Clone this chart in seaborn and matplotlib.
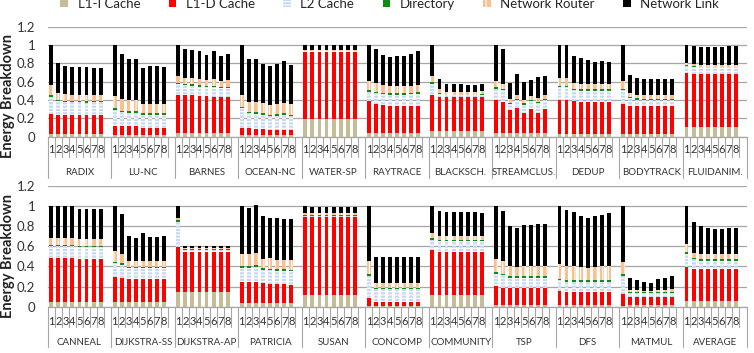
import numpy as np
import pandas as pd
import matplotlib
matplotlib.use("Agg")
import matplotlib.pyplot as plt
from matplotlib.patches import Patch
import seaborn as sns

# --- data ---
top_bench = ["RADIX", "LU-NC", "BARNES", "OCEAN-NC", "WATER-SP", "RAYTRACE",
             "BLACKSCH.", "STREAMCLUS.", "DEDUP", "BODYTRACK", "FLUIDANIM."]
bottom_bench = ["CANNEAL", "DIJKSTRA-SS", "DIJKSTRA-AP", "PATRICIA", "SUSAN",
                "CONCOMP", "COMMUNITY", "TSP", "DFS", "MATMUL", "AVERAGE"]
configs = ["1", "2", "3", "4", "5", "6", "7", "8"]
components = ["L1-I Cache", "L1-D Cache", "L2 Cache", "Directory",
              "Network Router", "Network Link"]
yticks = [0, 0.2, 0.4, 0.6, 0.8, 1.0, 1.2]
ytick_labels = ["0", "0.2", "0.4", "0.6", "0.8", "1", "1.2"]

# top row: one list of 8 configs per benchmark
top_l1i = [
    [0.03, 0.03, 0.03, 0.03, 0.03, 0.03, 0.03, 0.03],
    [0.02, 0.02, 0.02, 0.02, 0.02, 0.02, 0.02, 0.02],
    [0.04, 0.04, 0.04, 0.04, 0.04, 0.04, 0.04, 0.04],
    [0.02, 0.02, 0.02, 0.02, 0.02, 0.02, 0.02, 0.02],
    [0.19, 0.19, 0.19, 0.19, 0.19, 0.19, 0.19, 0.19],
    [0.045, 0.045, 0.045, 0.045, 0.045, 0.045, 0.045, 0.045],
    [0.06, 0.06, 0.06, 0.06, 0.06, 0.06, 0.06, 0.06],
    [0.04, 0.04, 0.04, 0.04, 0.04, 0.04, 0.04, 0.04],
    [0.03, 0.03, 0.03, 0.03, 0.03, 0.03, 0.03, 0.03],
    [0.03, 0.03, 0.03, 0.03, 0.03, 0.03, 0.03, 0.03],
    [0.105, 0.105, 0.105, 0.105, 0.105, 0.105, 0.105, 0.105],
]
top_l1d = [
    [0.215, 0.21, 0.205, 0.205, 0.205, 0.205, 0.205, 0.205],
    [0.10, 0.10, 0.095, 0.095, 0.08, 0.08, 0.08, 0.08],
    [0.42, 0.415, 0.415, 0.40, 0.40, 0.39, 0.39, 0.39],
    [0.08, 0.07, 0.065, 0.06, 0.055, 0.05, 0.05, 0.05],
    [0.73, 0.73, 0.73, 0.73, 0.73, 0.73, 0.73, 0.73],
    [0.34, 0.315, 0.30, 0.295, 0.295, 0.295, 0.29, 0.29],
    [0.40, 0.375, 0.37, 0.37, 0.37, 0.37, 0.37, 0.37],
    [0.36, 0.34, 0.25, 0.27, 0.22, 0.26, 0.22, 0.265],
    [0.365, 0.365, 0.355, 0.35, 0.35, 0.35, 0.35, 0.35],
    [0.33, 0.31, 0.305, 0.30, 0.30, 0.30, 0.30, 0.30],
    [0.59, 0.58, 0.575, 0.575, 0.575, 0.575, 0.575, 0.575],
]
top_l2 = [
    [0.19, 0.145, 0.14, 0.14, 0.14, 0.135, 0.14, 0.14],
    [0.17, 0.15, 0.145, 0.145, 0.14, 0.14, 0.14, 0.14],
    [0.11, 0.105, 0.10, 0.105, 0.10, 0.11, 0.10, 0.10],
    [0.21, 0.165, 0.165, 0.16, 0.15, 0.16, 0.17, 0.155],
    [0.01, 0.01, 0.01, 0.01, 0.01, 0.01, 0.01, 0.01],
    [0.105, 0.115, 0.12, 0.12, 0.12, 0.12, 0.13, 0.135],
    [0.12, 0.035, 0.02, 0.02, 0.02, 0.02, 0.02, 0.025],
    [0.125, 0.125, 0.065, 0.09, 0.09, 0.085, 0.105, 0.095],
    [0.145, 0.145, 0.125, 0.12, 0.12, 0.12, 0.12, 0.12],
    [0.15, 0.08, 0.07, 0.07, 0.07, 0.07, 0.07, 0.07],
    [0.075, 0.075, 0.075, 0.075, 0.075, 0.075, 0.075, 0.075],
]
top_dir = [
    [0.02, 0.015, 0.015, 0.015, 0.015, 0.015, 0.015, 0.015],
    [0.02, 0.015, 0.015, 0.015, 0.015, 0.015, 0.015, 0.015],
    [0.015, 0.015, 0.015, 0.015, 0.015, 0.015, 0.015, 0.015],
    [0.015, 0.015, 0.015, 0.015, 0.015, 0.015, 0.015, 0.015],
    [0.005, 0.005, 0.005, 0.005, 0.005, 0.005, 0.005, 0.005],
    [0.015, 0.015, 0.015, 0.015, 0.015, 0.015, 0.015, 0.015],
    [0.015, 0.01, 0.01, 0.01, 0.01, 0.01, 0.01, 0.01],
    [0.015, 0.015, 0.015, 0.015, 0.015, 0.015, 0.015, 0.015],
    [0.015, 0.015, 0.015, 0.015, 0.015, 0.015, 0.015, 0.015],
    [0.015, 0.015, 0.015, 0.015, 0.015, 0.015, 0.015, 0.015],
    [0.01, 0.01, 0.01, 0.01, 0.01, 0.01, 0.01, 0.01],
]
top_router = [
    [0.105, 0.08, 0.075, 0.07, 0.07, 0.07, 0.065, 0.065],
    [0.13, 0.125, 0.12, 0.12, 0.10, 0.105, 0.105, 0.10],
    [0.075, 0.07, 0.07, 0.07, 0.06, 0.07, 0.065, 0.075],
    [0.125, 0.11, 0.115, 0.11, 0.11, 0.11, 0.115, 0.115],
    [0.015, 0.015, 0.015, 0.015, 0.015, 0.015, 0.015, 0.015],
    [0.10, 0.095, 0.08, 0.075, 0.075, 0.075, 0.075, 0.08],
    [0.065, 0.035, 0.03, 0.03, 0.03, 0.03, 0.03, 0.03],
    [0.07, 0.06, 0.04, 0.04, 0.04, 0.04, 0.04, 0.04],
    [0.085, 0.085, 0.06, 0.06, 0.055, 0.055, 0.055, 0.055],
    [0.085, 0.04, 0.035, 0.035, 0.035, 0.035, 0.035, 0.035],
    [0.02, 0.02, 0.02, 0.02, 0.02, 0.02, 0.02, 0.02],
]
top_link = [
    [0.44, 0.32, 0.31, 0.305, 0.30, 0.30, 0.295, 0.295],
    [0.56, 0.495, 0.45, 0.45, 0.395, 0.415, 0.415, 0.41],
    [0.34, 0.315, 0.305, 0.305, 0.275, 0.305, 0.275, 0.285],
    [0.55, 0.465, 0.465, 0.43, 0.425, 0.44, 0.455, 0.425],
    [0.05, 0.045, 0.045, 0.045, 0.045, 0.045, 0.045, 0.045],
    [0.395, 0.37, 0.33, 0.32, 0.325, 0.33, 0.345, 0.365],
    [0.34, 0.11, 0.08, 0.08, 0.085, 0.075, 0.075, 0.085],
    [0.39, 0.375, 0.175, 0.23, 0.195, 0.18, 0.23, 0.205],
    [0.36, 0.36, 0.29, 0.285, 0.265, 0.25, 0.255, 0.25],
    [0.39, 0.20, 0.18, 0.18, 0.175, 0.175, 0.175, 0.175],
    [0.20, 0.20, 0.19, 0.19, 0.19, 0.195, 0.205, 0.205],
]

# bottom row
bot_l1i = [
    [0.05, 0.05, 0.05, 0.05, 0.05, 0.05, 0.05, 0.05],
    [0.045, 0.045, 0.045, 0.045, 0.045, 0.045, 0.045, 0.045],
    [0.15, 0.15, 0.15, 0.15, 0.15, 0.15, 0.15, 0.15],
    [0.035, 0.035, 0.035, 0.035, 0.035, 0.035, 0.035, 0.035],
    [0.115, 0.115, 0.115, 0.115, 0.115, 0.115, 0.115, 0.115],
    [0.01, 0.01, 0.01, 0.01, 0.01, 0.01, 0.01, 0.01],
    [0.12, 0.12, 0.12, 0.12, 0.12, 0.12, 0.12, 0.12],
    [0.02, 0.02, 0.02, 0.02, 0.02, 0.02, 0.02, 0.02],
    [0.02, 0.02, 0.02, 0.02, 0.02, 0.02, 0.02, 0.02],
    [0.01, 0.015, 0.015, 0.015, 0.015, 0.015, 0.015, 0.015],
    [0.06, 0.06, 0.06, 0.06, 0.06, 0.06, 0.06, 0.06],
]
bot_l1d = [
    [0.43, 0.43, 0.43, 0.43, 0.425, 0.425, 0.425, 0.425],
    [0.255, 0.245, 0.235, 0.235, 0.235, 0.235, 0.235, 0.235],
    [0.445, 0.395, 0.395, 0.395, 0.395, 0.395, 0.395, 0.395],
    [0.215, 0.215, 0.21, 0.20, 0.195, 0.195, 0.19, 0.185],
    [0.78, 0.78, 0.78, 0.78, 0.78, 0.78, 0.78, 0.78],
    [0.075, 0.035, 0.035, 0.035, 0.035, 0.035, 0.035, 0.035],
    [0.445, 0.425, 0.425, 0.425, 0.425, 0.425, 0.425, 0.425],
    [0.185, 0.17, 0.17, 0.17, 0.17, 0.17, 0.17, 0.17],
    [0.135, 0.13, 0.13, 0.13, 0.13, 0.13, 0.13, 0.13],
    [0.12, 0.08, 0.08, 0.08, 0.08, 0.08, 0.08, 0.08],
    [0.33, 0.315, 0.31, 0.31, 0.31, 0.31, 0.31, 0.31],
]
bot_l2 = [
    [0.12, 0.12, 0.12, 0.12, 0.115, 0.115, 0.115, 0.115],
    [0.13, 0.125, 0.10, 0.10, 0.10, 0.10, 0.10, 0.10],
    [0.245, 0.02, 0.02, 0.02, 0.02, 0.02, 0.02, 0.02],
    [0.135, 0.135, 0.15, 0.13, 0.13, 0.125, 0.13, 0.13],
    [0.01, 0.01, 0.01, 0.01, 0.01, 0.01, 0.01, 0.01],
    [0.22, 0.13, 0.13, 0.13, 0.13, 0.13, 0.13, 0.13],
    [0.10, 0.105, 0.105, 0.105, 0.105, 0.105, 0.105, 0.105],
    [0.125, 0.125, 0.10, 0.10, 0.10, 0.10, 0.10, 0.10],
    [0.11, 0.10, 0.10, 0.10, 0.10, 0.10, 0.10, 0.10],
    [0.18, 0.04, 0.04, 0.04, 0.04, 0.04, 0.04, 0.04],
    [0.135, 0.095, 0.085, 0.085, 0.085, 0.085, 0.085, 0.085],
]
bot_dir = [
    [0.015, 0.015, 0.015, 0.015, 0.015, 0.015, 0.015, 0.015],
    [0.015, 0.015, 0.015, 0.015, 0.015, 0.015, 0.015, 0.015],
    [0.02, 0.01, 0.01, 0.01, 0.01, 0.01, 0.01, 0.01],
    [0.015, 0.015, 0.015, 0.015, 0.015, 0.015, 0.015, 0.015],
    [0.005, 0.005, 0.005, 0.005, 0.005, 0.005, 0.005, 0.005],
    [0.02, 0.015, 0.015, 0.015, 0.015, 0.015, 0.015, 0.015],
    [0.015, 0.015, 0.015, 0.015, 0.015, 0.015, 0.015, 0.015],
    [0.015, 0.015, 0.015, 0.015, 0.015, 0.015, 0.015, 0.015],
    [0.015, 0.015, 0.015, 0.015, 0.015, 0.015, 0.015, 0.015],
    [0.015, 0.01, 0.01, 0.01, 0.01, 0.01, 0.01, 0.01],
    [0.02, 0.015, 0.015, 0.015, 0.015, 0.015, 0.015, 0.015],
]
bot_router = [
    [0.07, 0.07, 0.07, 0.07, 0.065, 0.065, 0.065, 0.065],
    [0.105, 0.09, 0.06, 0.055, 0.06, 0.055, 0.055, 0.06],
    [0.02, 0.01, 0.01, 0.01, 0.01, 0.01, 0.01, 0.01],
    [0.12, 0.12, 0.12, 0.09, 0.105, 0.095, 0.095, 0.10],
    [0.02, 0.02, 0.02, 0.02, 0.02, 0.02, 0.02, 0.02],
    [0.13, 0.05, 0.05, 0.05, 0.05, 0.05, 0.05, 0.05],
    [0.055, 0.035, 0.035, 0.035, 0.035, 0.035, 0.035, 0.035],
    [0.125, 0.125, 0.095, 0.085, 0.095, 0.095, 0.095, 0.095],
    [0.14, 0.14, 0.14, 0.125, 0.115, 0.125, 0.135, 0.14],
    [0.115, 0.025, 0.02, 0.01, 0.01, 0.025, 0.025, 0.035],
    [0.075, 0.05, 0.055, 0.05, 0.05, 0.05, 0.05, 0.05],
]
bot_link = [
    [0.315, 0.315, 0.315, 0.315, 0.30, 0.30, 0.30, 0.30],
    [0.45, 0.40, 0.25, 0.235, 0.275, 0.245, 0.245, 0.25],
    [0.12, 0.015, 0.015, 0.015, 0.015, 0.015, 0.015, 0.015],
    [0.48, 0.465, 0.48, 0.43, 0.405, 0.42, 0.41, 0.405],
    [0.07, 0.065, 0.065, 0.065, 0.065, 0.065, 0.065, 0.065],
    [0.545, 0.25, 0.25, 0.25, 0.25, 0.25, 0.25, 0.25],
    [0.265, 0.255, 0.245, 0.24, 0.24, 0.24, 0.24, 0.235],
    [0.53, 0.495, 0.40, 0.39, 0.415, 0.415, 0.425, 0.42],
    [0.58, 0.555, 0.535, 0.515, 0.505, 0.51, 0.515, 0.53],
    [0.56, 0.12, 0.10, 0.095, 0.085, 0.105, 0.12, 0.125],
    [0.38, 0.31, 0.275, 0.265, 0.25, 0.25, 0.26, 0.265],
]

# --- styling ---
comp_colors = ["#c4bd97", "#ff0000", "#c6d9f1", "#0e8c0e", "#fac090", "#000000"]
comp_hatch = [None, None, "-----", None, "|||", None]
grid_col = "#a6a6a6"
slots = 9  # 8 configs + one empty slot per benchmark

sns.set_theme(style="white")
plt.rcParams["font.family"] = ["Lato", "DejaVu Sans"]
plt.rcParams["hatch.linewidth"] = 0.8

W, H = 754, 353
fig = plt.figure(figsize=(W / 100, H / 100), dpi=100)


def px_axes(left, top, right, bottom):
    return fig.add_axes([left / W, 1 - bottom / H, (right - left) / W, (bottom - top) / H])


def draw_panel(ax, bench, layers, num_dy, name_dy, sep_short, sep_long):
    stack = np.cumsum(np.array(layers, dtype=float), axis=0)
    xpos = np.array([[g * slots + i + 0.5 for i in range(len(configs))]
                     for g in range(len(bench))])
    # draw cumulative totals from the top layer down, each covering the previous
    for k in range(len(components) - 1, -1, -1):
        df = pd.DataFrame({"x": xpos.ravel(), "energy": stack[k].ravel()})
        sns.barplot(data=df, x="x", y="energy", native_scale=True, width=0.55,
                    color=comp_colors[k], saturation=1, errorbar=None,
                    hatch=comp_hatch[k], edgecolor="white", linewidth=0, ax=ax)

    ax.set_xlim(0, len(bench) * slots)
    ax.set_ylim(0, 1.2)
    ax.set_yticks(yticks, ytick_labels)
    ax.set_xticks([])
    ax.set_xlabel("")
    ax.set_ylabel("")
    ax.yaxis.grid(True, color=grid_col, lw=0.9)
    ax.set_axisbelow(True)
    for s in ["top", "right", "left"]:
        ax.spines[s].set_visible(False)
    ax.spines["bottom"].set_color(grid_col)
    ax.spines["bottom"].set_linewidth(0.9)
    ax.tick_params(axis="y", length=0, pad=9, labelsize=9.5, labelcolor="#333333")

    # multi-level category axis drawn by hand
    h_px = ax.get_position().height * H
    trans = ax.get_xaxis_transform()
    for g, name in enumerate(bench):
        for i, c in enumerate(configs):
            ax.text(g * slots + i + 0.5, -num_dy / h_px, c, transform=trans,
                    ha="center", va="center", fontsize=8, color="#333333")
        ax.text(g * slots + 4.5, -name_dy / h_px, name, transform=trans,
                ha="center", va="center", fontsize=7, color="#333333")
    for b in range(len(bench) * slots + 1):
        depth = sep_long if b % slots == 0 else sep_short
        ax.plot([b, b], [0, -depth / h_px], transform=trans, color=grid_col,
                lw=0.8, clip_on=False)


ax_top = px_axes(47.7, 26.7, 746.5, 136.7)
ax_bot = px_axes(47.7, 186, 746.5, 306.7)

draw_panel(ax_top, top_bench,
           [top_l1i, top_l1d, top_l2, top_dir, top_router, top_link],
           13, 35.5, 20, 41)
draw_panel(ax_bot, bottom_bench,
           [bot_l1i, bot_l1d, bot_l2, bot_dir, bot_router, bot_link],
           15, 35.5, 20, 40)

for yc in [96, 256]:
    fig.text(8.5 / W, 1 - yc / H, "Energy Breakdown", rotation=90, ha="center",
             va="center", fontsize=10.5, fontweight="bold", color="#222222")

# legend sits at the very top edge, half cut off as in the reference
handles = [Patch(facecolor=c, hatch=h, edgecolor="white", linewidth=0)
           for c, h in zip(comp_colors, comp_hatch)]
fig.legend(handles, components, loc="center", bbox_to_anchor=(0.517, 1 - 3.5 / H),
           ncol=6, frameon=False, fontsize=9.5, handlelength=0.6, handleheight=0.6,
           handletextpad=0.7, columnspacing=2.15)

fig.savefig("out.png", dpi=100)
